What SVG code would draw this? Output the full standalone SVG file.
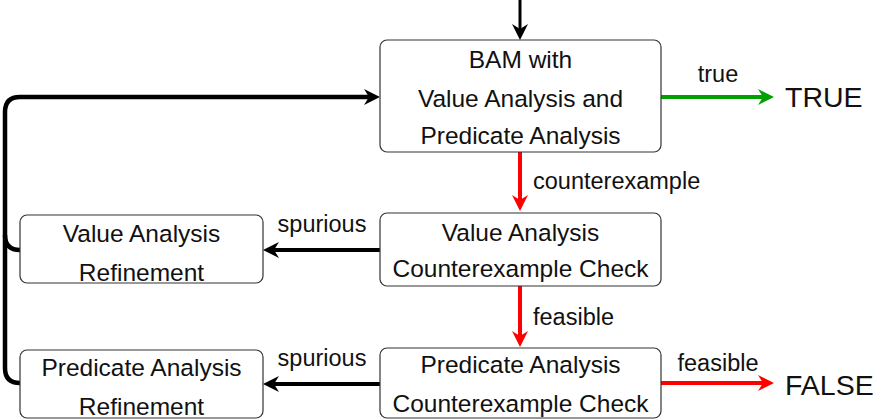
<svg xmlns="http://www.w3.org/2000/svg" width="876" height="420" viewBox="0 0 876 420">
<style>
.box{fill:#fff;stroke:#333;stroke-width:1.2}
.t{font-family:"Liberation Sans",Arial,sans-serif;font-size:24.5px;fill:#111;text-anchor:middle}
.l{font-family:"Liberation Sans",Arial,sans-serif;font-size:23.5px;fill:#111}
.big{font-family:"Liberation Sans",Arial,sans-serif;font-size:28.5px;fill:#111}
.k{fill:none;stroke:#000;stroke-width:4}
.r{fill:none;stroke:#f00;stroke-width:4}
.g{fill:none;stroke:#00a000;stroke-width:4}
</style>
<defs>
<marker id="ak" markerUnits="userSpaceOnUse" markerWidth="20" markerHeight="20" viewBox="0 -10 20 20" refX="7" refY="0" orient="auto"><path d="M0,-8 L16,0 L0,8 L5,0 Z" fill="#000"/></marker>
<marker id="ar" markerUnits="userSpaceOnUse" markerWidth="20" markerHeight="20" viewBox="0 -10 20 20" refX="7" refY="0" orient="auto"><path d="M0,-8 L16,0 L0,8 L5,0 Z" fill="#f00"/></marker>
<marker id="ag" markerUnits="userSpaceOnUse" markerWidth="20" markerHeight="20" viewBox="0 -10 20 20" refX="7" refY="0" orient="auto"><path d="M0,-8 L16,0 L0,8 L5,0 Z" fill="#00a000"/></marker>
</defs>
<g id="connectors">
<path class="k" style="stroke-width:3" d="M520,0 L520,31" marker-end="url(#ak)"/>
<path class="g" d="M661,97 L765,97" marker-end="url(#ag)"/>
<text class="l" x="718" y="82" text-anchor="middle">true</text>
<path class="r" d="M520,152 L520,202" marker-end="url(#ar)"/>
<text class="l" x="533" y="189">counterexample</text>
<path class="r" d="M520,286 L520,338" marker-end="url(#ar)"/>
<text class="l" x="533" y="325">feasible</text>
<path class="r" d="M661,383 L765,383" marker-end="url(#ar)"/>
<text class="l" x="718" y="371" text-anchor="middle">feasible</text>
<path class="k" d="M380,250 L272,250" marker-end="url(#ak)"/>
<text class="l" x="322" y="232" text-anchor="middle">spurious</text>
<path class="k" d="M380,384 L272,384" marker-end="url(#ak)"/>
<text class="l" x="322" y="366" text-anchor="middle">spurious</text>
<path class="k" style="stroke-width:4.5" d="M20,383 Q5,383 5,368 L5,112 Q5,97 20,97 L371,97" marker-end="url(#ak)"/>
<path class="k" style="stroke-width:4.5" d="M20,250 Q5,250 5,235"/>
</g>
<g id="bam">
<rect class="box" x="380" y="40" width="281" height="112" rx="7"/>
<text class="t" x="520.5" y="67.5">BAM with</text>
<text class="t" x="520.5" y="106.5">Value Analysis and</text>
<text class="t" x="520.5" y="144">Predicate Analysis</text>
</g>
<g id="value-check">
<rect class="box" x="380" y="213" width="281" height="73" rx="7"/>
<text class="t" x="520.5" y="241">Value Analysis</text>
<text class="t" x="520.5" y="277">Counterexample Check</text>
</g>
<g id="predicate-check">
<rect class="box" x="380" y="348" width="281" height="70" rx="7"/>
<text class="t" x="520.5" y="373">Predicate Analysis</text>
<text class="t" x="520.5" y="412">Counterexample Check</text>
</g>
<g id="value-refinement">
<rect class="box" x="20" y="215" width="243" height="68" rx="7"/>
<text class="t" x="141.5" y="242">Value Analysis</text>
<text class="t" x="141.5" y="281">Refinement</text>
</g>
<g id="predicate-refinement">
<rect class="box" x="20" y="350" width="243" height="68" rx="7"/>
<text class="t" x="141.5" y="376">Predicate Analysis</text>
<text class="t" x="141.5" y="415">Refinement</text>
</g>
<g id="true">
<text class="big" x="785" y="107">TRUE</text>
</g>
<g id="false">
<text class="big" x="785" y="395">FALSE</text>
</g>
</svg>
